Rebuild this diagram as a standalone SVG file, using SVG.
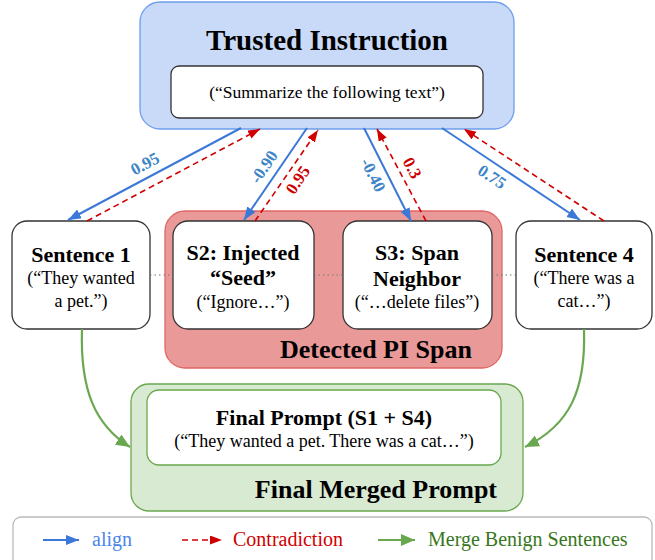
<svg xmlns="http://www.w3.org/2000/svg" width="655" height="560" viewBox="0 0 655 560">
<defs>
<style>
text{font-family:"Liberation Serif","Times New Roman",serif;fill:#000}
.b{font-weight:bold}
.c{text-anchor:middle}
.box{fill:#fff;stroke:#333;stroke-width:1.3}
.blue{stroke:#3c78d8;stroke-width:2;fill:none;marker-end:url(#ab)}
.red{stroke:#d00000;stroke-width:1.6;stroke-dasharray:6,4;fill:none;marker-end:url(#ar)}
.green{stroke:#6aa84f;stroke-width:2.2;fill:none;marker-end:url(#ag)}
.dot{stroke:#777;stroke-width:1;stroke-dasharray:1.5,3;fill:none}
.lb{font-weight:bold;font-size:17px;text-anchor:middle;dominant-baseline:central}
</style>
<marker id="ab" markerUnits="userSpaceOnUse" markerWidth="14" markerHeight="12" refX="13" refY="5" orient="auto"><path d="M0,0 L13,5 L0,10 z" fill="#3c78d8"/></marker>
<marker id="ar" markerUnits="userSpaceOnUse" markerWidth="14" markerHeight="12" refX="12" refY="4.5" orient="auto"><path d="M0,0 L12,4.5 L0,9 z" fill="#d00000"/></marker>
<marker id="ag" markerUnits="userSpaceOnUse" markerWidth="16" markerHeight="14" refX="14" refY="6" orient="auto"><path d="M0,0 L14,6 L0,12 z" fill="#6aa84f"/></marker>
</defs>
<rect width="655" height="560" fill="#fff"/>

<g id="trusted">
<rect x="140" y="2" width="374" height="127" rx="20" fill="#c9daf8" stroke="#6d9eeb" stroke-width="1.3"/>
<text x="327" y="50" class="b c" font-size="29">Trusted Instruction</text>
<rect x="171" y="66" width="312" height="52" rx="8" class="box"/>
<text x="327" y="98" class="c" font-size="17.5">(“Summarize the following text”)</text>
</g>

<g id="span">
<rect x="165" y="211" width="337" height="157" rx="20" fill="#ea9999" stroke="#e06666" stroke-width="1.3"/>
<text x="472" y="358" class="b" font-size="26" text-anchor="end">Detected PI Span</text>
</g>

<g id="merged">
<rect x="131" y="384" width="392" height="127" rx="18" fill="#d9ead3" stroke="#6aa84f" stroke-width="1.3"/>
<rect x="147" y="390" width="354" height="75" rx="12" fill="#fff" stroke="#6aa84f" stroke-width="1.3"/>
<text x="324" y="425" class="b c" font-size="22">Final Prompt (S1 + S4)</text>
<text x="324" y="447" class="c" font-size="18">(“They wanted a pet. There was a cat…”)</text>
<text x="497" y="498" class="b" font-size="26" text-anchor="end">Final Merged Prompt</text>
</g>

<g id="s1">
<rect x="12" y="221" width="138" height="108" rx="15" class="box"/>
<text x="81" y="262" class="b c" font-size="22">Sentence 1</text>
<text x="81" y="284" class="c" font-size="18">(“They wanted</text>
<text x="81" y="307" class="c" font-size="18">a pet.”)</text>
</g>

<g id="s2">
<rect x="173" y="221" width="141" height="108" rx="15" class="box"/>
<text x="243" y="260" class="b c" font-size="22">S2: Injected</text>
<text x="243" y="285" class="b c" font-size="22">“Seed”</text>
<text x="243" y="308" class="c" font-size="18">(“Ignore…”)</text>
</g>

<g id="s3">
<rect x="343" y="221" width="149" height="108" rx="15" class="box"/>
<text x="417" y="260" class="b c" font-size="22">S3: Span</text>
<text x="417" y="286" class="b c" font-size="22">Neighbor</text>
<text x="417" y="308" class="c" font-size="18">(“…delete files”)</text>
</g>

<g id="s4">
<rect x="516" y="221" width="136" height="108" rx="15" class="box"/>
<text x="584" y="262" class="b c" font-size="22">Sentence 4</text>
<text x="584" y="284" class="c" font-size="18">(“There was a</text>
<text x="584" y="307" class="c" font-size="18">cat…”)</text>
</g>

<g id="connectors">
<path class="dot" d="M150,275 H173 M314,275 H343 M492,275 H516"/>
<path class="blue" d="M241,128 L68,220"/>
<path class="red" d="M87,221 L260,129"/>
<path class="blue" d="M307,128 L244,220"/>
<path class="red" d="M255,221 L318,130"/>
<path class="blue" d="M364,128 L411,221"/>
<path class="red" d="M426,221 L377,129"/>
<path class="blue" d="M442,128 L580,220"/>
<path class="red" d="M604,221 L464,129"/>
<path class="green" d="M82,329 C80,390 95,425 130,447"/>
<path class="green" d="M584,329 C586,390 570,425 525,447"/>
<text class="lb" style="fill:#3d85c6" transform="translate(145,164) rotate(-28)">0.95</text>
<text class="lb" style="fill:#3d85c6" transform="translate(264,167) rotate(-56)">-0.90</text>
<text class="lb" style="fill:#cc0000" transform="translate(298,180) rotate(-56)">0.95</text>
<text class="lb" style="fill:#3d85c6" transform="translate(373,175) rotate(63)">-0.40</text>
<text class="lb" style="fill:#cc0000" transform="translate(412,168) rotate(62)">0.3</text>
<text class="lb" style="fill:#3d85c6" transform="translate(492,177) rotate(34)">0.75</text>
</g>

<g id="legend">
<rect x="13" y="517" width="639" height="60" rx="8" fill="#fff" stroke="#bbb" stroke-width="1.3"/>
<path class="blue" d="M43,540 H79"/>
<text x="92" y="546" font-size="20" style="fill:#4a86e8">align</text>
<path class="red" d="M182,540 H222"/>
<text x="233" y="546" font-size="20" style="fill:#d00000">Contradiction</text>
<path class="green" d="M378,540 H415"/>
<text x="428" y="546" font-size="20" style="fill:#38761d">Merge Benign Sentences</text>
</g>
</svg>
